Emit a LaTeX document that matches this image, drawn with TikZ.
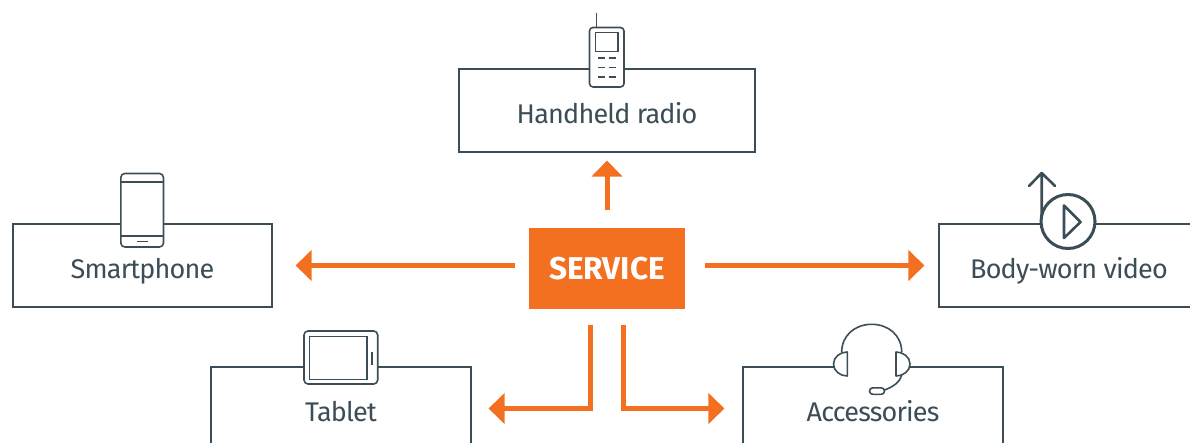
\documentclass[tikz,border=0pt]{standalone}
\usepackage{fontspec}
\setmainfont{Fira Sans}[BoldFont={Fira Sans Bold},LetterSpace=-3]
\newfontfamily\servicefont{Fira Sans Bold}
\usetikzlibrary{arrows.meta}
\definecolor{slate}{HTML}{3D4D57}
\definecolor{brand}{HTML}{F47021}
\tikzset{
  boxnode/.style={draw=slate,line width=1.05pt,fill=white,inner sep=0pt,text=slate,font=\fontsize{27}{31}\selectfont,text height=25.5pt,text depth=0pt},
  flow/.style={draw=brand,line width=5pt,-{Triangle[length=16pt,width=30pt]}},
  icon/.style={draw=slate,line width=1.6pt,fill=white,line join=round},
  iconthin/.style={draw=slate,line width=1.4pt},
}
\begin{document}
\begin{tikzpicture}[x=1pt,y=-1pt]
\useasboundingbox (0,0) rectangle (1190,443);
\clip (0,0) rectangle (1190,443);
% boxes
\node[boxnode,minimum width=296pt,minimum height=83pt] (radio) at (607,110.5) {Handheld radio};
\node[boxnode,minimum width=259pt,minimum height=83pt] (smart) at (142.5,265.5) {Smartphone};
\node[boxnode,minimum width=260pt,minimum height=83pt] (video) at (1069,265.5) {Body-worn video};
\node[boxnode,minimum width=260pt,minimum height=83pt] (tablet) at (341,408.5) {Tablet};
\node[boxnode,minimum width=260pt,minimum height=83pt] (acc) at (873,408.5) {Accessories};
% service
\node[fill=brand,text=white,inner sep=0pt,minimum width=156pt,minimum height=81pt,font=\servicefont\fontsize{31.5}{36}\selectfont,text height=22pt,text depth=0pt] (service) at (607,268.5) {SERVICE};
% connectors
\draw[flow,shorten <=18pt,shorten >=8pt] (service.north) -- (radio.south);
\draw[flow,shorten <=14pt,shorten >=23pt] (service.west |- smart.east) -- (smart.east);
\draw[flow,shorten <=20pt,shorten >=14pt] (service.east |- video.west) -- (video.west);
\coordinate (sl) at (590,325);
\coordinate (sr) at (623,325);
\draw[flow,shorten >=17pt,line join=miter] (sl) |- (tablet.east);
\draw[flow,shorten >=18pt,line join=miter] (sr) |- (acc.west);
% radio icon
\draw[iconthin] (596.3,13) -- (596.3,27);
\draw[icon,rounded corners=3.5pt] (589.5,27.5) rectangle (624,87);
\draw[iconthin,fill=white] (595.5,32.5) rectangle (618,51.5);
\foreach \yy in {58,67.5,77}{
  \draw[iconthin,line width=1.1pt] (598,\yy) -- (605,\yy) (608.5,\yy) -- (615.5,\yy);
}
% smartphone icon
\draw[icon,rounded corners=4pt] (120.8,173.5) rectangle (163.5,247);
\draw[iconthin] (120.8,182) -- (163.5,182) (120.8,236) -- (163.5,236);
\draw[iconthin] (137,241.5) -- (147.5,241.5);
% tablet icon
\draw[icon,rounded corners=4pt] (304,331) rectangle (377.7,384);
\draw[iconthin] (309.3,336.5) rectangle (367,379.5);
\draw[iconthin,line width=2pt] (372,352) -- (372,364.5);
% video icon
\draw[icon,line width=2.6pt,line cap=round,fill=none] (1041.7,222) -- (1041.7,173) (1029,186) -- (1041.7,173) -- (1055,186);
\draw[icon,line width=3pt] (1068,221.5) circle (27);
\draw[icon,line width=2.6pt] (1064,205.5) -- (1080.5,222) -- (1064,238) -- cycle;
% headset icon
\fill[white] (840,360) rectangle (903,374);
\draw[icon,fill=none] (841.7,352) .. controls (841.7,335.4) and (855.1,324.3) .. (871.7,324.3) .. controls (888.3,324.3) and (901.7,335.4) .. (901.7,352);
\draw[icon] (847.3,352) -- (847.3,376) .. controls (840,376) and (833.5,371) .. (833.5,364) .. controls (833.5,357) and (840,352) .. (847.3,352) -- cycle;
\draw[icon] (896,352) -- (896,376) .. controls (903.3,376) and (910,371) .. (910,364) .. controls (910,357) and (903.3,352) .. (896,352) -- cycle;
\draw[icon,fill=none] (884.5,390) .. controls (893,387) and (900,382) .. (901.8,375);
\draw[icon,rounded corners=3.2pt] (869.5,387.8) rectangle (884.5,394.3);
\end{tikzpicture}
\end{document}
